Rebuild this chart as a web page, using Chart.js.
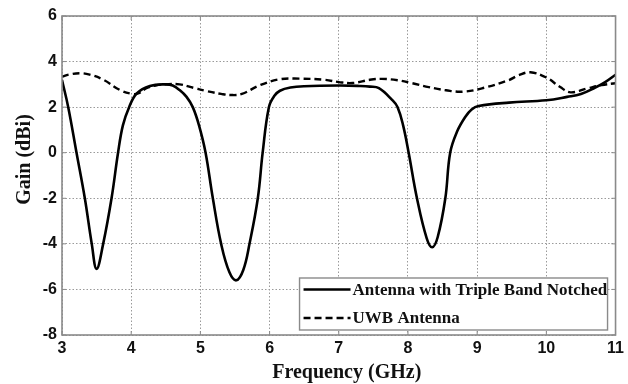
<!DOCTYPE html>
<html>
<head>
<meta charset="utf-8">
<script src="https://cdn.jsdelivr.net/npm/chart.js@4/dist/chart.umd.min.js"></script>
<style>
  html, body { margin: 0; padding: 0; background: #fff; }
  #wrap { width: 628px; height: 384px; }
</style>
</head>
<body>
<div id="wrap"><canvas id="c" width="628" height="384"></canvas></div>
<script>
// Frequency sweep (GHz) and measured gain (dBi) for each antenna
const notchedFreq = [3.0, 3.09, 3.21, 3.33, 3.43, 3.5, 3.595, 3.716, 3.81, 3.88, 3.97, 4.08, 4.27, 4.5, 4.6, 4.7, 4.8, 4.89, 4.98, 5.075, 5.18, 5.3, 5.42, 5.52, 5.62, 5.71, 5.83, 5.9, 5.99, 6.07, 6.15, 6.3, 6.5, 7.0, 7.3, 7.45, 7.58, 7.77, 7.85, 7.93, 8.01, 8.13, 8.27, 8.35, 8.43, 8.54, 8.61, 8.71, 8.83, 8.92, 9.02, 9.46, 10.0, 10.3, 10.5, 10.7, 10.85, 11.0];
const notchedGain = [3.19, 2.0, 0.0, -2.0, -4.0, -5.1, -4.0, -2.0, 0.0, 1.2, 2.0, 2.6, 2.93, 3.0, 2.95, 2.75, 2.45, 2.0, 1.2, 0.0, -2.0, -4.0, -5.25, -5.6, -5.15, -4.0, -2.0, 0.0, 2.0, 2.5, 2.72, 2.86, 2.92, 2.95, 2.93, 2.9, 2.83, 2.32, 2.0, 1.2, 0.0, -2.0, -3.75, -4.15, -3.7, -2.0, 0.0, 0.93, 1.58, 1.9, 2.05, 2.2, 2.3, 2.45, 2.58, 2.85, 3.1, 3.42];

const uwbFreq = [3.0, 3.1, 3.26, 3.4, 3.6, 3.84, 4.02, 4.1, 4.22, 4.35, 4.5, 4.7, 4.9, 5.1, 5.3, 5.45, 5.6, 5.85, 6.14, 6.43, 6.8, 7.0, 7.2, 7.45, 7.62, 7.85, 8.06, 8.3, 8.55, 8.8, 9.1, 9.46, 9.6, 9.77, 10.0, 10.2, 10.35, 10.6, 10.8, 11.0];
const uwbGain = [3.33, 3.43, 3.49, 3.43, 3.2, 2.75, 2.58, 2.6, 2.83, 2.95, 3.0, 3.0, 2.85, 2.7, 2.58, 2.53, 2.58, 2.95, 3.22, 3.25, 3.2, 3.1, 3.06, 3.2, 3.24, 3.18, 3.05, 2.88, 2.74, 2.68, 2.85, 3.19, 3.4, 3.53, 3.3, 2.88, 2.65, 2.83, 2.97, 3.05];

const seriesLabels = ['Antenna with Triple Band Notched', 'UWB Antenna'];
const xTitle = 'Frequency (GHz)';
const yTitle = 'Gain (dBi)';
const xTicks = [3, 4, 5, 6, 7, 8, 9, 10, 11];
const yTicks = [-8, -6, -4, -2, 0, 2, 4, 6];

const toPoints = (xs, ys) => xs.map((x, i) => ({ x: x, y: ys[i] }));

const SERIF = '"Liberation Serif", "Times New Roman", serif';
const SANS = '"Liberation Sans", Arial, sans-serif';
const FRAME = '#8a8a8a';
const INK = '#111';

// Box around the plot plus short inward tick marks on all four sides
const framePlugin = {
  id: 'frame',
  afterDatasetsDraw(chart) {
    const { ctx, chartArea: a, scales } = chart;
    ctx.save();
    ctx.strokeStyle = FRAME;
    ctx.lineWidth = 1;
    ctx.beginPath();
    xTicks.forEach(v => {
      const px = scales.x.getPixelForValue(v);
      ctx.moveTo(px, a.bottom); ctx.lineTo(px, a.bottom - 4);
      ctx.moveTo(px, a.top); ctx.lineTo(px, a.top + 4);
    });
    yTicks.forEach(v => {
      const py = scales.y.getPixelForValue(v);
      ctx.moveTo(a.left, py); ctx.lineTo(a.left + 4, py);
      ctx.moveTo(a.right, py); ctx.lineTo(a.right - 4, py);
    });
    ctx.stroke();
    ctx.lineWidth = 1.6;
    ctx.strokeRect(a.left, a.top, a.right - a.left, a.bottom - a.top);
    ctx.restore();
  }
};

// Axis titles in bold serif
const axisTitlePlugin = {
  id: 'axisTitles',
  afterDraw(chart) {
    const { ctx, chartArea: a } = chart;
    ctx.save();
    ctx.fillStyle = INK;
    ctx.font = 'bold 20px ' + SERIF;
    ctx.textAlign = 'center';
    ctx.textBaseline = 'middle';
    ctx.fillText(xTitle, (a.left + a.right) / 2 + 8, 373);
    ctx.translate(25, (a.top + a.bottom) / 2 - 16);
    ctx.rotate(-Math.PI / 2);
    ctx.fillText(yTitle, 0, 0);
    ctx.restore();
  }
};

// Legend box in the lower-right corner of the plot
const boxLegendPlugin = {
  id: 'boxLegend',
  afterDraw(chart) {
    const { ctx, chartArea: a } = chart;
    const w = 308, h = 52;
    const x0 = a.right - 8 - w, y0 = a.bottom - 5 - h;
    ctx.save();
    ctx.fillStyle = '#fff';
    ctx.fillRect(x0, y0, w, h);
    ctx.strokeStyle = FRAME;
    ctx.lineWidth = 1.4;
    ctx.strokeRect(x0, y0, w, h);
    const rows = [y0 + 11.5, y0 + 40];
    chart.data.datasets.forEach((ds, i) => {
      const y = rows[i];
      ctx.beginPath();
      ctx.strokeStyle = ds.borderColor;
      ctx.lineWidth = ds.borderWidth;
      ctx.setLineDash(ds.borderDash || []);
      ctx.moveTo(x0 + 4, y);
      ctx.lineTo(x0 + 51, y);
      ctx.stroke();
      ctx.setLineDash([]);
      ctx.fillStyle = INK;
      ctx.font = 'bold 17px ' + SERIF;
      ctx.textBaseline = 'middle';
      ctx.textAlign = 'left';
      ctx.fillText(ds.label, x0 + 53, y + 1);
    });
    ctx.restore();
  }
};

new Chart(document.getElementById('c'), {
  type: 'line',
  data: {
    datasets: [
      {
        label: seriesLabels[0],
        data: toPoints(notchedFreq, notchedGain),
        borderColor: '#000',
        borderWidth: 2.6,
        pointRadius: 0,
        tension: 0.4,
        fill: false
      },
      {
        label: seriesLabels[1],
        data: toPoints(uwbFreq, uwbGain),
        borderColor: '#000',
        borderWidth: 2.4,
        borderDash: [7, 4],
        pointRadius: 0,
        tension: 0.4,
        fill: false
      }
    ]
  },
  options: {
    responsive: false,
    animation: false,
    devicePixelRatio: 1,
    layout: { padding: { left: 0, right: 10, top: 16, bottom: 0 } },
    plugins: { legend: { display: false }, tooltip: { enabled: false } },
    scales: {
      x: {
        type: 'linear',
        min: 3, max: 11,
        afterBuildTicks(scale) { scale.ticks = xTicks.map(v => ({ value: v })); },
        afterFit(scale) { scale.height = 49; },
        grid: { color: '#9a9a9a', lineWidth: 1, drawTicks: false },
        border: { display: false, dash: [1.5, 2] },
        ticks: {
          color: INK,
          padding: 4,
          maxRotation: 0,
          autoSkip: false,
          font: { family: SANS, size: 16, weight: 'bold' }
        }
      },
      y: {
        type: 'linear',
        min: -8, max: 6,
        afterBuildTicks(scale) { scale.ticks = yTicks.map(v => ({ value: v })); },
        afterFit(scale) { scale.width = 62; },
        grid: { color: '#9a9a9a', lineWidth: 1, drawTicks: false },
        border: { display: false, dash: [1.5, 2] },
        ticks: {
          color: INK,
          padding: 5,
          autoSkip: false,
          font: { family: SANS, size: 16, weight: 'bold' }
        }
      }
    }
  },
  plugins: [framePlugin, axisTitlePlugin, boxLegendPlugin]
});
</script>
</body>
</html>
